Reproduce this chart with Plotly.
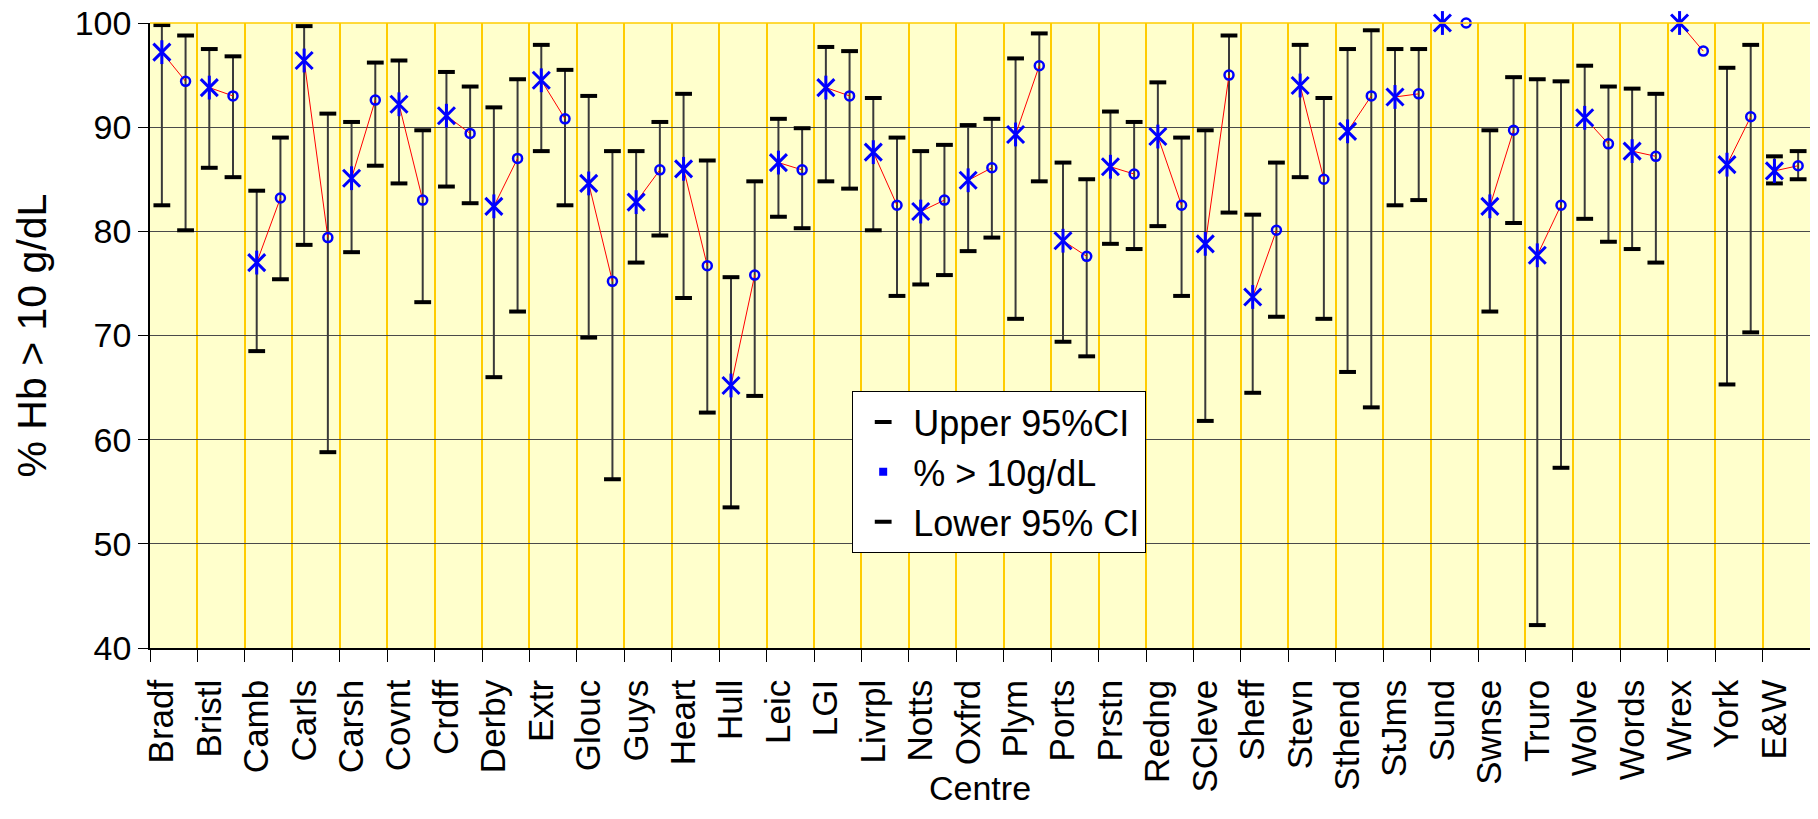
import plotly.graph_objects as go

centres = ["Bradf", "Bristl", "Camb", "Carls", "Carsh", "Covnt", "Crdff", "Derby", "Extr",
           "Glouc", "Guys", "Heart", "Hull", "Leic", "LGI", "Livrpl", "Notts", "Oxfrd",
           "Plym", "Ports", "Prstn", "Redng", "SCleve", "Sheff", "Stevn", "Sthend", "StJms",
           "Sund", "Swnse", "Truro", "Wolve", "Words", "Wrex", "York", "E&W"]

# first point of each centre (star marker)
pct_a = [97.2, 93.8, 77.0, 96.4, 85.1, 92.2, 91.1, 82.4, 94.5, 84.6, 82.8, 86.0, 65.2, 86.6,
         93.8, 87.6, 81.9, 84.9, 89.3, 79.1, 86.2, 89.1, 78.8, 73.7, 94.0, 89.6, 92.9, 100.0,
         82.4, 77.7, 90.9, 87.7, 100.0, 86.4, 85.8]
up_a = [99.8, 97.5, 83.9, 99.7, 90.5, 96.4, 95.3, 91.9, 97.9, 93.0, 87.7, 93.2, 75.6, 90.8,
        97.7, 92.8, 87.7, 90.2, 96.6, 86.6, 91.5, 94.3, 89.7, 81.6, 97.9, 97.5, 97.5, None,
        89.7, 94.6, 95.9, 93.7, None, 95.7, 87.2]
lo_a = [82.5, 86.1, 68.5, 78.7, 78.0, 84.6, 84.3, 66.0, 87.7, 69.8, 77.0, 73.6, 53.5, 81.4,
        84.8, 80.1, 74.9, 78.1, 71.6, 69.4, 78.8, 80.5, 61.8, 64.5, 85.2, 66.5, 82.5, None,
        72.3, 42.2, 81.2, 78.3, None, 65.3, 84.6]

# second point of each centre (circle marker)
pct_b = [94.4, 93.0, 83.2, 79.4, 92.6, 83.0, 89.4, 87.0, 90.8, 75.2, 85.9, 76.7, 75.8, 85.9,
         93.0, 82.5, 83.0, 86.1, 95.9, 77.6, 85.5, 82.5, 95.0, 80.1, 85.0, 93.0, 93.2, 100.0,
         89.7, 82.5, 88.4, 87.2, 97.3, 91.0, 86.3]
up_b = [98.8, 96.8, 89.0, 91.3, 96.2, 89.7, 93.9, 94.6, 95.5, 87.7, 90.5, 86.8, 84.8, 89.9,
        97.3, 89.0, 88.3, 90.8, 99.0, 85.0, 90.5, 89.0, 98.8, 86.6, 92.8, 99.3, 97.5, None,
        94.8, 94.4, 93.9, 93.2, None, 97.9, 87.7]
lo_b = [80.1, 85.2, 75.4, 58.8, 86.3, 73.2, 82.7, 72.3, 82.5, 56.2, 79.6, 62.6, 64.2, 80.3,
        84.1, 73.8, 75.8, 79.4, 84.8, 68.0, 78.3, 73.8, 81.8, 71.8, 71.6, 63.1, 83.0, None,
        80.8, 57.3, 79.0, 77.0, None, 70.3, 85.0]

y_ticks = [40, 50, 60, 70, 80, 90, 100]

FONT = "Liberation Sans, Arial, sans-serif"
n = len(centres)
xa = [2 * i for i in range(n)]
xb = [2 * i + 1 for i in range(n)]

# high-low lines
hl_x, hl_y = [], []
for xs, los, ups in ((xa, lo_a, up_a), (xb, lo_b, up_b)):
    for x, lo, up in zip(xs, los, ups):
        if lo is None or up is None:
            continue
        hl_x += [x, x, None]
        hl_y += [lo, up, None]

# red connecting segments within each centre
rl_x, rl_y = [], []
for i in range(n):
    rl_x += [xa[i], xb[i], None]
    rl_y += [pct_a[i], pct_b[i], None]

all_x = xa + xb
all_up = up_a + up_b
all_lo = lo_a + lo_b

fig = go.Figure()
fig.add_trace(go.Scatter(x=hl_x, y=hl_y, mode="lines", line=dict(color="#3a3a3a", width=2),
                         showlegend=False, hoverinfo="skip"))
fig.add_trace(go.Scatter(x=rl_x, y=rl_y, mode="lines", line=dict(color="#FF0000", width=1),
                         showlegend=False, hoverinfo="skip", cliponaxis=False))
fig.add_trace(go.Scatter(x=all_x, y=all_up, mode="markers", name="Upper 95%CI",
                         marker=dict(symbol="line-ew", size=12, line=dict(color="black", width=4))))
fig.add_trace(go.Scatter(x=[None], y=[None], mode="markers", name="% > 10g/dL",
                         marker=dict(symbol="square", size=8, color="#0000FF")))
fig.add_trace(go.Scatter(x=all_x, y=all_lo, mode="markers", name="Lower 95% CI",
                         marker=dict(symbol="line-ew", size=12, line=dict(color="black", width=4))))
# star marker = X plus vertical stroke
fig.add_trace(go.Scatter(x=xa, y=pct_a, mode="markers", showlegend=False, cliponaxis=False,
                         marker=dict(symbol="x-thin-open", size=17, color="#0000FF",
                                     line=dict(color="#0000FF", width=3))))
fig.add_trace(go.Scatter(x=xa, y=pct_a, mode="markers", showlegend=False, cliponaxis=False,
                         hoverinfo="skip",
                         marker=dict(symbol="line-ns-open", size=17, color="#0000FF",
                                     line=dict(color="#0000FF", width=3))))
fig.add_trace(go.Scatter(x=xb, y=pct_b, mode="markers", showlegend=False, cliponaxis=False,
                         marker=dict(symbol="circle-open", size=9, color="#0000FF",
                                     line=dict(color="#0000FF", width=2.5))))

fig.update_layout(
    width=1802, height=802,
    margin=dict(l=142, r=0, t=15, b=162, autoexpand=False),
    paper_bgcolor="white",
    plot_bgcolor="#FFFFCC",
    font=dict(family=FONT, color="black", size=30),
    legend=dict(x=0.423, y=0.411, xanchor="left", yanchor="top",
                bgcolor="white", bordercolor="black", borderwidth=1,
                font=dict(family=FONT, size=36, color="black"),
                itemwidth=50),
    xaxis=dict(
        range=[-0.5, 2 * n - 0.5], automargin=False,
        tickmode="array", tickvals=xa, ticktext=centres,
        tickangle=-90, tickfont=dict(family=FONT, size=35),
        ticks="outside", ticklen=16, tickcolor="rgba(0,0,0,0)",
        showgrid=False, zeroline=False,
        showline=True, linecolor="black", linewidth=1.5,
        minor=dict(tickmode="array", tickvals=[x - 0.5 for x in xa], ticks="outside",
                   ticklen=12, tickcolor="black", tickwidth=1,
                   showgrid=True, gridcolor="#FFCC00", gridwidth=1.5),
    ),
    yaxis=dict(
        range=[40, 100], tickmode="array", tickvals=y_ticks, automargin=False,
        ticks="outside", ticklen=10, tickcolor="black",
        tickfont=dict(family=FONT, size=34), ticklabeloverflow="allow",
        showgrid=True, gridcolor="#4a4a4a", gridwidth=1,
        zeroline=False, showline=True, linecolor="black", linewidth=1.5,
    ),
    shapes=[dict(type="line", xref="paper", yref="paper", x0=0, x1=1, y0=1, y1=1,
                 line=dict(color="#FFCC00", width=1.5))],
    annotations=[
        dict(text="Centre", xref="paper", yref="paper", x=0.5, y=-0.224,
             xanchor="center", yanchor="middle", showarrow=False,
             font=dict(family=FONT, size=34)),
        dict(text="% Hb > 10 g/dL", xref="paper", yref="paper", x=-0.0711, y=0.5,
             xanchor="center", yanchor="middle", showarrow=False, textangle=-90,
             font=dict(family=FONT, size=41)),
    ],
)

fig.write_html("out.html")
